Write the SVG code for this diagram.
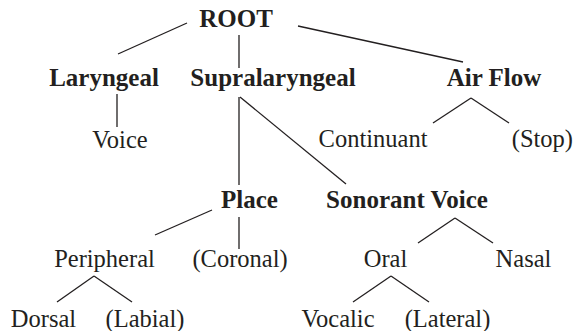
<svg xmlns="http://www.w3.org/2000/svg" width="575" height="331" viewBox="0 0 575 331">
<style>
text{font-family:"Liberation Serif","Times New Roman",serif;fill:#231f20;text-anchor:middle;font-size:24.5px}
.b{font-weight:bold;font-size:25px}
#edges line{stroke:#231f20;stroke-width:1.3}
</style>
<rect width="575" height="331" fill="#fff"/>
<g id="edges">
<line x1="187" y1="23" x2="118" y2="54"/>
<line x1="239" y1="35" x2="239" y2="68"/>
<line x1="298" y1="26" x2="463" y2="62"/>
<line x1="117" y1="94" x2="117" y2="127"/>
<line x1="239" y1="97" x2="239" y2="185"/>
<line x1="240" y1="97" x2="346" y2="184"/>
<line x1="471" y1="98" x2="433" y2="123"/>
<line x1="471" y1="98" x2="509" y2="123"/>
<line x1="212" y1="210" x2="155" y2="235"/>
<line x1="239" y1="217" x2="239" y2="249"/>
<line x1="94" y1="276" x2="57" y2="302"/>
<line x1="94" y1="276" x2="132" y2="302"/>
<line x1="455" y1="218" x2="418" y2="243"/>
<line x1="455" y1="218" x2="493" y2="243"/>
<line x1="391" y1="276" x2="353" y2="302"/>
<line x1="391" y1="276" x2="429" y2="302"/>
</g>
<g id="root"><text class="b" x="236" y="27">ROOT</text></g>
<g id="laryngeal"><text class="b" x="104" y="86">Laryngeal</text></g>
<g id="supralaryngeal"><text class="b" x="273" y="86">Supralaryngeal</text></g>
<g id="airflow"><text class="b" x="494" y="86">Air Flow</text></g>
<g id="voice"><text x="120" y="148">Voice</text></g>
<g id="continuant"><text x="373" y="147">Continuant</text></g>
<g id="stop"><text x="573" y="147" style="text-anchor:end">(Stop)</text></g>
<g id="place"><text class="b" x="249.5" y="208">Place</text></g>
<g id="sonorant"><text class="b" x="407" y="208">Sonorant Voice</text></g>
<g id="peripheral"><text x="104.5" y="267">Peripheral</text></g>
<g id="coronal"><text x="240" y="267">(Coronal)</text></g>
<g id="oral"><text x="385.5" y="267">Oral</text></g>
<g id="nasal"><text x="523.5" y="267">Nasal</text></g>
<g id="dorsal"><text x="43.5" y="327">Dorsal</text></g>
<g id="labial"><text x="145" y="327">(Labial)</text></g>
<g id="vocalic"><text x="338" y="327">Vocalic</text></g>
<g id="lateral"><text x="447.5" y="327">(Lateral)</text></g>
</svg>
